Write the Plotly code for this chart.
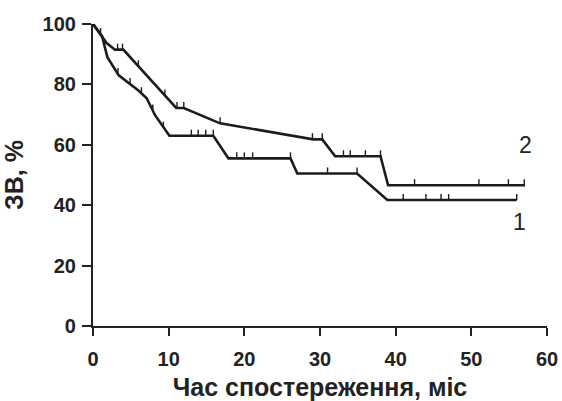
import numpy as np
import plotly.graph_objects as go

# Curve 1 (lower) survival path
t1 = [0, 1.2, 1.9, 3.4, 6.0, 7.1, 8.2, 9.8, 10.1, 15.9, 17.9, 26.1, 27.0, 34.9, 38.9, 56.0]
s1 = [100, 96, 89, 83, 78, 75.4, 69.8, 63.8, 63.0, 63.0, 55.5, 55.5, 50.5, 50.5, 41.7, 41.7]
c1 = [1.0, 3.3, 4.9, 6.4, 7.9, 9.3, 13.0, 13.9, 14.9, 15.9, 19.0, 20.0, 21.1, 26.1,
      31.0, 34.9, 41.0, 44.0, 46.0, 47.0, 56.0]

# Curve 2 (upper) survival path
t2 = [0, 1.8, 2.9, 4.0, 11.0, 12.0, 16.8, 24.8, 29.1, 30.3, 32.0, 38.0, 39.0, 57.1]
s2 = [100, 93.7, 91.5, 91.5, 72.2, 72.2, 67.1, 63.8, 61.8, 61.8, 56.2, 56.2, 46.6, 46.6]
c2 = [3.25, 3.9, 6.0, 9.5, 11.1, 12.0, 16.8, 29.0, 30.3, 33.1, 34.0, 36.0, 38.0,
      42.5, 51.0, 54.9, 57.0]

x_ticks = [0, 10, 20, 30, 40, 50, 60]
y_ticks = [0, 20, 40, 60, 80, 100]
x_title = "Час спостереження, міс"
y_title = "ЗВ, %"

LINE = "#1c1c1c"
TICK_H = 2.0

fig = go.Figure()


def add_curve(t, s, c):
    fig.add_trace(go.Scatter(x=t, y=s, mode="lines",
                             line=dict(color=LINE, width=2.6), showlegend=False,
                             hoverinfo="skip"))
    xs, ys = [], []
    for ct in c:
        yv = float(np.interp(ct, t, s))
        xs += [ct, ct, None]
        ys += [yv, yv + TICK_H, None]
    fig.add_trace(go.Scatter(x=xs, y=ys, mode="lines",
                             line=dict(color=LINE, width=1.4), showlegend=False,
                             hoverinfo="skip"))


add_curve(t1, s1, c1)
add_curve(t2, s2, c2)

fig.add_annotation(x=57.1, y=59.9, text="2", showarrow=False,
                   font=dict(family="Liberation Sans", size=23, color="#222"))
fig.add_annotation(x=56.3, y=34.4, text="1", showarrow=False,
                   font=dict(family="Liberation Sans", size=23, color="#222"))

tickfont = dict(family="Liberation Sans", size=20, color="#222", weight="bold")

fig.update_xaxes(range=[0, 60], tickvals=x_ticks, ticks="outside", ticklen=8,
                 tickwidth=2, tickcolor="#222", showline=True, linewidth=2.2,
                 linecolor="#222", showgrid=False, zeroline=False,
                 tickfont=tickfont, ticklabelstandoff=6, automargin=False,
                 title=dict(text=x_title, standoff=12,
                            font=dict(family="Liberation Sans", size=25,
                                      color="#222", weight="bold")))
fig.update_yaxes(range=[0, 100], tickvals=y_ticks, ticks="outside", ticklen=9,
                 tickwidth=2, tickcolor="#222", showline=True, linewidth=2.2,
                 linecolor="#222", showgrid=False, zeroline=False,
                 tickfont=tickfont, ticklabelstandoff=2, automargin=False,
                 title=dict(text=y_title, standoff=12,
                            font=dict(family="Liberation Sans", size=25,
                                      color="#222", weight="bold")))

fig.update_layout(width=562, height=401, plot_bgcolor="white",
                  paper_bgcolor="white",
                  margin=dict(l=92.7, r=15.3, t=24, b=75, pad=0))

fig.write_html("out.html")
